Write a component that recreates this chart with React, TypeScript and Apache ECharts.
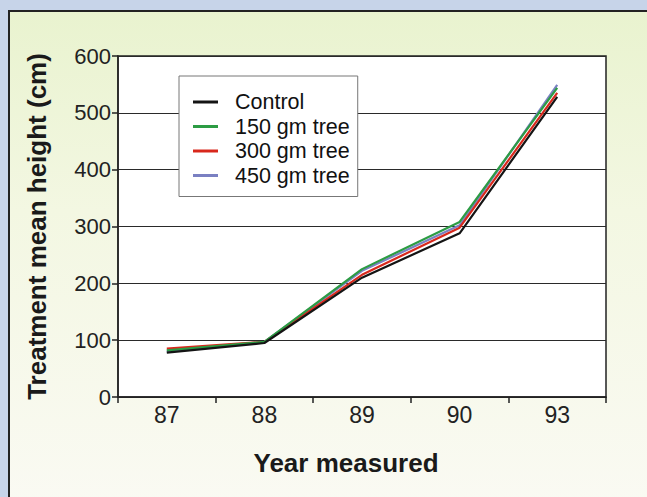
import React, { useEffect, useRef } from "react";
import * as echarts from "echarts";

const years = ["87", "88", "89", "90", "93"];
const seriesNames = ["Control", "150 gm tree", "300 gm tree", "450 gm tree"];
const control = [78, 95, 210, 288, 528];
const gm150 = [82, 97, 225, 308, 544];
const gm300 = [85, 97, 215, 298, 535];
const gm450 = [80, 97, 222, 302, 549];
const yTicks = [0, 100, 200, 300, 400, 500, 600];
const colors = ["#141414", "#2c9c44", "#d8281c", "#7a80c2"];

export default function App() {
  const ref = useRef<HTMLDivElement>(null);
  useEffect(() => {
    if (!ref.current) return;
    const chart = echarts.init(ref.current, null, { renderer: "svg" });
    const values = [control, gm150, gm300, gm450];
    const order = [3, 2, 1, 0];
    chart.setOption({
      animation: false,
      textStyle: { fontFamily: "Liberation Sans, Arial, sans-serif" },
      grid: {
        left: 118,
        top: 56,
        right: 41,
        bottom: 100,
        show: true,
        backgroundColor: "#ffffff",
        borderColor: "#222",
        borderWidth: 1.5,
      },
      legend: {
        data: seriesNames,
        orient: "vertical",
        left: 179,
        top: 76,
        padding: [15, 8, 10, 14],
        itemGap: 2.5,
        itemWidth: 25,
        itemHeight: 3,
        icon: "rect",
        backgroundColor: "#ffffff",
        borderColor: "#777",
        borderWidth: 1,
        textStyle: { fontSize: 21.5, color: "#111", padding: [0, 0, 0, 12], lineHeight: 20 },
      },
      xAxis: {
        type: "category",
        data: years,
        boundaryGap: true,
        name: "Year measured",
        nameLocation: "middle",
        nameGap: 53,
        nameTextStyle: { fontSize: 26, fontWeight: "bold", color: "#1a1a1a", padding: [0, 32, 0, 0] },
        axisLine: { lineStyle: { color: "#222", width: 1.5 } },
        axisTick: { show: true, length: 6, lineStyle: { color: "#222", width: 1.5 } },
        axisLabel: { fontSize: 23, color: "#222", margin: 6 },
        splitLine: { show: false },
      },
      yAxis: {
        type: "value",
        min: yTicks[0],
        max: yTicks[yTicks.length - 1],
        interval: 100,
        name: "Treatment mean height (cm)",
        nameLocation: "middle",
        nameGap: 68,
        nameTextStyle: { fontSize: 26, fontWeight: "bold", color: "#1a1a1a" },
        axisLine: { show: true, lineStyle: { color: "#222", width: 1.5 } },
        axisTick: { show: true, length: 6, lineStyle: { color: "#222", width: 1.5 } },
        axisLabel: { fontSize: 22, color: "#222", margin: 7 },
        splitLine: { show: true, lineStyle: { color: "#2a2a2a", width: 1.2 } },
      },
      series: order.map((i) => ({
        name: seriesNames[i],
        type: "line",
        data: values[i],
        symbol: "none",
        color: colors[i],
        lineStyle: { width: 2.2, color: colors[i] },
        z: 10 - i,
      })),
    });
    return () => chart.dispose();
  }, []);

  return (
    <div style={{ position: "fixed", left: 0, top: 0, width: 647, height: 497, background: "#c7d4e9", overflow: "hidden" }}>
      <div
        style={{
          position: "absolute",
          left: 8,
          top: 10,
          width: 650,
          height: 500,
          boxSizing: "border-box",
          border: "2px solid #222",
          background: "linear-gradient(180deg, #e9f3cf 0%, #f3f7e2 40%, #fafaf3 100%)",
        }}
      />
      <div ref={ref} style={{ position: "absolute", left: 0, top: 0, width: 647, height: 497 }} />
    </div>
  );
}
